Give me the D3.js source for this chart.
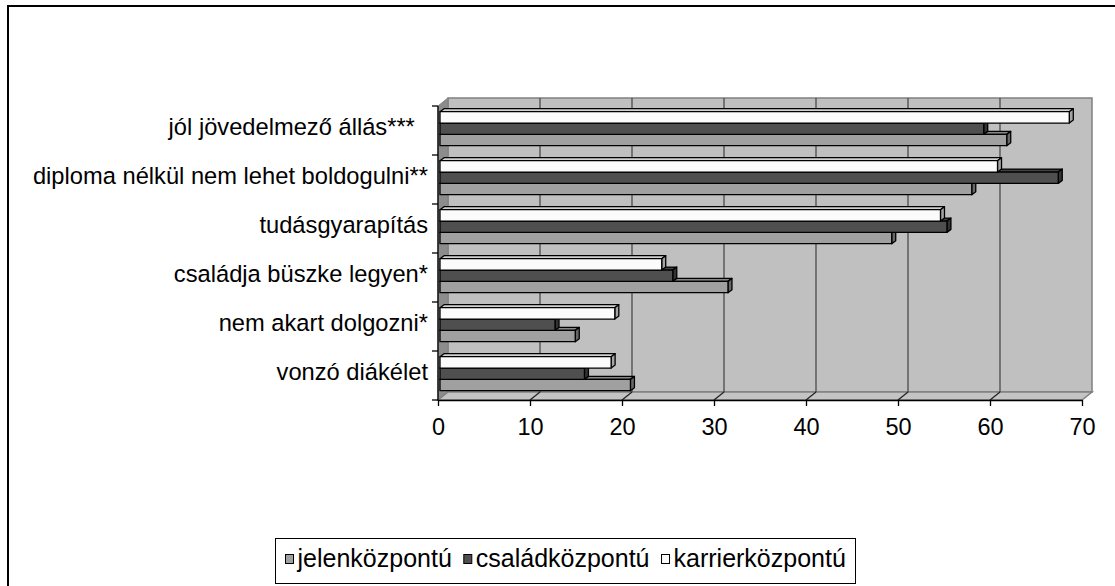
<!DOCTYPE html>
<html lang="hu">
<head>
<meta charset="UTF-8">
<title>motivációk</title>
<script src="https://cdn.jsdelivr.net/npm/d3@7"></script>
<style>
  html, body { margin: 0; background: #fff; }
  svg { display: block; font-family: "Liberation Sans", Arial, sans-serif; }
  .cat { white-space: pre; }
</style>
</head>
<body>
<script>
// categories listed top to bottom, as they appear on the chart
var categories = [
  "jól jövedelmező állás***  ",
  "diploma nélkül nem lehet boldogulni**",
  "tudásgyarapítás",
  "családja büszke legyen*",
  "nem akart dolgozni*",
  "vonzó diákélet"
];
var seriesNames = ["jelenközpontú", "családközpontú", "karrierközpontú"];
var jelen   = [61.6, 57.8, 49.1, 31.3, 14.7, 20.7];
var csalad  = [59.1, 67.2, 55.1, 25.3, 12.5, 15.7];
var karrier = [68.4, 60.6, 54.4, 24.1, 19.0, 18.6];
var seriesColors = ["#a0a0a0", "#4f4f4f", "#fbfbfb"];
var xTicks = [0, 10, 20, 30, 40, 50, 60, 70];

var w = 1115, h = 586;
var wall = { dx: 10, dy: -8 };   // depth of the 3d box
var bar = { dx: 4, dy: -3 };     // depth of each bar

var series = seriesNames.map(function (n, i) {
  return { name: n, values: [jelen, csalad, karrier][i], color: seriesColors[i], idx: i };
});

var svg = d3.select('body').append('svg')
  .attr('width', w)
  .attr('height', h);

// outer frame (only top/left visible)
svg.append('path')
  .attr('d', 'M8,' + (h + 5) + 'V6H' + (w + 5))
  .attr('fill', 'none')
  .attr('stroke', '#000')
  .attr('stroke-width', 2);

var x = d3.scaleLinear().domain([0, 70]).range([438, 1082]);
var xb = d3.scaleLinear().domain([0, 70]).range([440, 1084]);
var y = d3.scaleBand().domain(categories).range([106, 400]);
// series inside a group, top to bottom: karrier, család, jelen
var yIn = d3.scaleBand().domain([2, 1, 0]).range([5.7, 39.7]);

var x0 = x(0), x1 = x(70), yTop = y.range()[0], yBot = y.range()[1];

// back wall
svg.append('rect')
  .attr('x', x0 + wall.dx)
  .attr('y', yTop + wall.dy)
  .attr('width', x1 - x0)
  .attr('height', yBot - yTop)
  .attr('fill', '#c0c0c0')
  .attr('stroke', '#808080')
  .attr('stroke-width', 1.5);

// left wall
svg.append('polygon')
  .attr('points', [[x0, yTop], [x0 + wall.dx, yTop + wall.dy], [x0 + wall.dx, yBot + wall.dy], [x0, yBot]].join(' '))
  .attr('fill', '#8c8c8c')
  .attr('stroke', '#808080');

// floor
svg.append('polygon')
  .attr('points', [[x0, yBot], [x0 + wall.dx, yBot + wall.dy], [x1 + wall.dx, yBot + wall.dy], [x1, yBot]].join(' '))
  .attr('fill', '#c4c4c4')
  .attr('stroke', '#808080')
  .attr('stroke-width', 1.5);

// gridlines on wall and floor
var inner = xTicks.filter(function (d) { return d > 0 && d < 70; });
svg.selectAll('.grid')
  .data(inner)
  .enter().append('line')
  .attr('class', 'grid')
  .attr('x1', function (d) { return x(d) + wall.dx; })
  .attr('x2', function (d) { return x(d) + wall.dx; })
  .attr('y1', yTop + wall.dy)
  .attr('y2', yBot + wall.dy)
  .attr('stroke', '#404040')
  .attr('stroke-width', 1.2);

svg.selectAll('.floorgrid')
  .data(inner)
  .enter().append('line')
  .attr('class', 'floorgrid')
  .attr('x1', function (d) { return x(d); })
  .attr('x2', function (d) { return x(d) + wall.dx; })
  .attr('y1', yBot)
  .attr('y2', yBot + wall.dy)
  .attr('stroke', '#202020')
  .attr('stroke-width', 1.2);

// bars
var groups = svg.selectAll('.grp')
  .data(categories)
  .enter().append('g')
  .attr('class', 'grp');

groups.each(function (cat, ci) {
  var g = d3.select(this);
  series.forEach(function (s) {
    var v = s.values[ci];
    var bx0 = xb(0), bx1 = xb(v);
    var by0 = y(cat) + yIn(s.idx), by1 = by0 + yIn.bandwidth();
    var c = d3.color(s.color);
    var b = g.append('g')
      .attr('stroke', '#000')
      .attr('stroke-width', 1.3)
      .attr('stroke-linejoin', 'round');
    b.append('polygon')
      .attr('points', [[bx0, by0], [bx0 + bar.dx, by0 + bar.dy], [bx1 + bar.dx, by0 + bar.dy], [bx1, by0]].join(' '))
      .attr('fill', c.darker(0.5));
    b.append('polygon')
      .attr('points', [[bx1, by0], [bx1 + bar.dx, by0 + bar.dy], [bx1 + bar.dx, by1 + bar.dy], [bx1, by1]].join(' '))
      .attr('fill', c.darker(1.2));
    b.append('rect')
      .attr('x', bx0)
      .attr('y', by0)
      .attr('width', bx1 - bx0)
      .attr('height', by1 - by0)
      .attr('fill', s.color);
  });
});

// x axis
var xAxis = svg.append('g')
  .attr('transform', 'translate(0,' + yBot + ')')
  .call(d3.axisBottom(x).tickValues(xTicks).tickSizeInner(6).tickSizeOuter(0).tickPadding(12));
xAxis.select('.domain').attr('stroke', '#000').attr('stroke-width', 1.3);
xAxis.selectAll('.tick line').attr('stroke', '#000').attr('stroke-width', 1.3);
xAxis.selectAll('.tick text')
  .attr('fill', '#000')
  .style('font-family', '"Liberation Sans", Arial, sans-serif')
  .style('font-size', '23.5px');

// y axis: line + ticks at category boundaries
svg.append('line')
  .attr('x1', x0).attr('x2', x0)
  .attr('y1', yTop).attr('y2', yBot)
  .attr('stroke', '#000').attr('stroke-width', 1.3);
var bounds = categories.map(function (c) { return y(c); }).concat([yBot]);
svg.selectAll('.ytick')
  .data(bounds)
  .enter().append('line')
  .attr('class', 'ytick')
  .attr('x1', x0 - 6).attr('x2', x0)
  .attr('y1', function (d) { return d; })
  .attr('y2', function (d) { return d; })
  .attr('stroke', '#000').attr('stroke-width', 1.3);

svg.selectAll('.cat')
  .data(categories)
  .enter().append('text')
  .attr('class', 'cat')
  .attr('x', 428)
  .attr('y', function (d) { return y(d) + y.bandwidth() / 2 + 4.5; })
  .attr('text-anchor', 'end')
  .style('font-size', '23.7px')
  .attr('fill', '#000')
  .text(function (d) { return d; });

// legend
svg.append('rect')
  .attr('x', 275.5).attr('y', 538.5)
  .attr('width', 580).attr('height', 45)
  .attr('fill', '#fff')
  .attr('stroke', '#000');

var lx = 285.5;
series.forEach(function (s) {
  svg.append('rect')
    .attr('x', lx).attr('y', 554.5)
    .attr('width', 8).attr('height', 9)
    .attr('fill', s.color)
    .attr('stroke', '#000');
  var t = svg.append('text')
    .attr('x', lx + 12)
    .attr('y', 567)
    .style('font-size', '25px')
    .attr('fill', '#000')
    .text(s.name);
  lx = lx + 12 + t.node().getComputedTextLength() + 12;
});
</script>
</body>
</html>
